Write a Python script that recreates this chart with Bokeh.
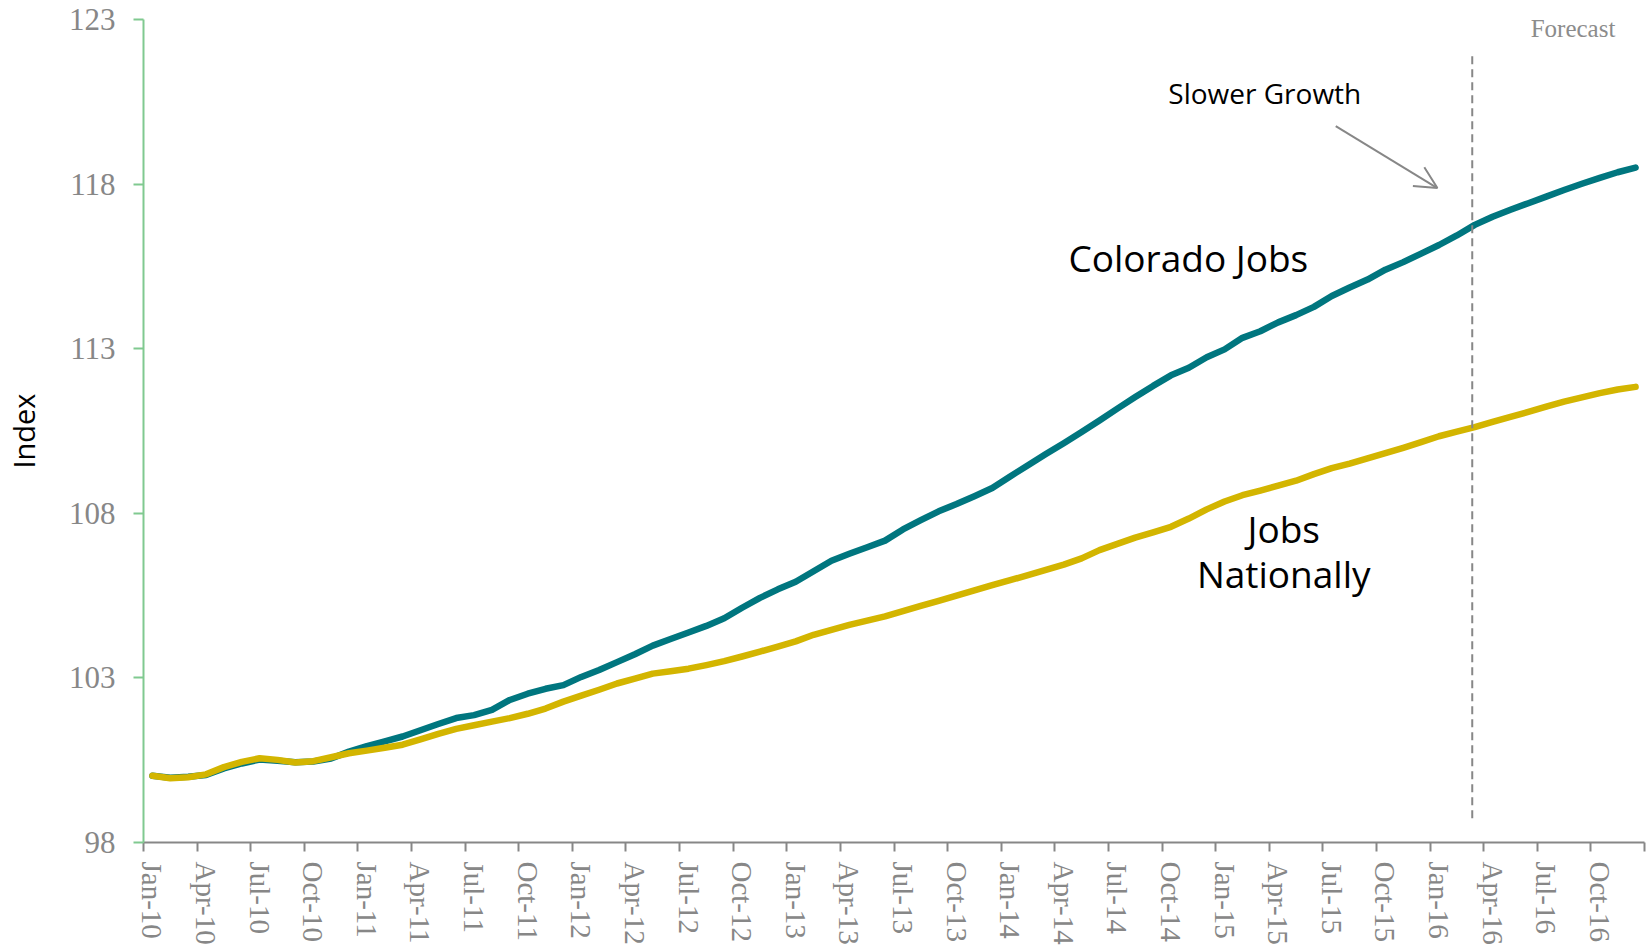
import numpy as np
from bokeh.plotting import figure
from bokeh.models import Range1d, FixedTicker, Label, Arrow, OpenHead
from bokeh.embed import file_html
from bokeh.resources import INLINE

# ---------------- data ----------------
TICK_LABELS = ["Jan-10", "Apr-10", "Jul-10", "Oct-10",
               "Jan-11", "Apr-11", "Jul-11", "Oct-11",
               "Jan-12", "Apr-12", "Jul-12", "Oct-12",
               "Jan-13", "Apr-13", "Jul-13", "Oct-13",
               "Jan-14", "Apr-14", "Jul-14", "Oct-14",
               "Jan-15", "Apr-15", "Jul-15", "Oct-15",
               "Jan-16", "Apr-16", "Jul-16", "Oct-16"]

Y_TICKS = [98, 103, 108, 113, 118, 123]

# monthly index, Jan-10 .. Dec-16
COLORADO = [100.03, 99.97, 100.00, 100.05, 100.25, 100.40, 100.52, 100.48, 100.44, 100.46, 100.55, 100.76,
            100.93, 101.07, 101.22, 101.41, 101.60, 101.78, 101.87, 102.03, 102.33, 102.52, 102.67, 102.78,
            103.03, 103.24, 103.48, 103.72, 103.98, 104.18, 104.38, 104.58, 104.81, 105.13, 105.43, 105.69,
            105.92, 106.24, 106.56, 106.77, 106.97, 107.17, 107.51, 107.79, 108.06, 108.28, 108.52, 108.77,
            109.12, 109.46, 109.80, 110.13, 110.47, 110.82, 111.18, 111.53, 111.87, 112.19, 112.42, 112.74,
            112.98, 113.33, 113.53, 113.80, 114.02, 114.27, 114.60, 114.86, 115.10, 115.40, 115.63, 115.89,
            116.15, 116.44, 116.76, 117.01, 117.22, 117.42, 117.62, 117.82, 118.01, 118.19, 118.36, 118.50]

NATIONAL = [100.03, 99.95, 99.98, 100.07, 100.29, 100.45, 100.56, 100.51, 100.43, 100.47, 100.59, 100.71,
            100.79, 100.88, 100.97, 101.13, 101.30, 101.45, 101.56, 101.67, 101.78, 101.91, 102.07, 102.28,
            102.46, 102.64, 102.83, 102.98, 103.13, 103.20, 103.28, 103.39, 103.51, 103.65, 103.80, 103.95,
            104.11, 104.31, 104.46, 104.61, 104.74, 104.87, 105.03, 105.19, 105.34, 105.50, 105.66, 105.82,
            105.97, 106.12, 106.28, 106.44, 106.63, 106.88, 107.07, 107.26, 107.42, 107.59, 107.84, 108.12,
            108.36, 108.55, 108.69, 108.84, 108.99, 109.19, 109.37, 109.51, 109.67, 109.83, 109.99, 110.16,
            110.34, 110.48, 110.62, 110.78, 110.93, 111.08, 111.24, 111.39, 111.52, 111.65, 111.76, 111.84]

# annotation anchors (month units / index units)
FORECAST_X = 74.36
FORECAST_Y0, FORECAST_Y1 = 98.74, 121.91
ARROW_FROM = (66.72, 119.76)
ARROW_TO = (72.41, 117.88)

TEAL = "#00767F"
GOLD = "#D3B500"
GRAY = "#878787"
GREEN = "#80C990"

n = len(COLORADO)
x = np.arange(n) + 0.5

p = figure(width=1646, height=947, output_backend="svg", toolbar_location=None,
           x_range=Range1d(0, n), y_range=Range1d(Y_TICKS[0], Y_TICKS[-1]))
p.min_border_left = 142
p.min_border_right = 2
p.min_border_top = 19
p.min_border_bottom = 105
p.outline_line_color = None
p.background_fill_color = "white"
p.border_fill_color = "white"
p.xgrid.grid_line_color = None
p.ygrid.grid_line_color = None

# x axis: labels at category centres, tick marks between quarters
label_pos = [3 * i + 0.5 for i in range(len(TICK_LABELS))]
xa = p.xaxis[0]
xa.ticker = FixedTicker(ticks=label_pos, minor_ticks=[3 * i for i in range(len(TICK_LABELS) + 1)])
xa.major_label_overrides = {pos: lab for pos, lab in zip(label_pos, TICK_LABELS)}
xa.major_tick_line_color = None
xa.major_tick_out = 0
xa.major_tick_in = 0
xa.minor_tick_line_color = GRAY
xa.minor_tick_line_width = 2
xa.minor_tick_out = 9
xa.minor_tick_in = 0
xa.axis_line_color = GRAY
xa.axis_line_width = 2
xa.major_label_orientation = "vertical"
xa.major_label_standoff = 10
xa.major_label_text_font = "Liberation Serif"
xa.major_label_text_font_size = "29px"
xa.major_label_text_color = GRAY

ya = p.yaxis[0]
ya.ticker = FixedTicker(ticks=Y_TICKS, minor_ticks=[])
ya.axis_line_color = GREEN
ya.axis_line_width = 2
ya.major_tick_line_color = GREEN
ya.major_tick_line_width = 2
ya.major_tick_out = 10
ya.major_tick_in = 0
ya.minor_tick_line_color = None
ya.major_label_standoff = 18
ya.major_label_text_font = "Liberation Serif"
ya.major_label_text_font_size = "31px"
ya.major_label_text_color = GRAY
ya.axis_label = "Index"
ya.axis_label_text_font = "Open Sans"
ya.axis_label_text_font_style = "normal"
ya.axis_label_text_font_size = "29px"
ya.axis_label_text_color = "black"
ya.axis_label_standoff = 23

p.line(x, COLORADO, line_color=TEAL, line_width=6.5, line_cap="round", line_join="round")
p.line(x, NATIONAL, line_color=GOLD, line_width=6.5, line_cap="round", line_join="round")

# forecast divider
p.line([FORECAST_X, FORECAST_X], [FORECAST_Y0, FORECAST_Y1], line_color=GRAY,
       line_width=2, line_dash="8 5")

p.add_layout(Label(x=80.0, y=122.74, text="Forecast", text_align="center",
                   text_baseline="alphabetic", text_font="Liberation Serif",
                   text_font_size="25px", text_color="#8c8c8c"))
p.add_layout(Label(x=62.75, y=120.77, text="Slower Growth", text_align="center",
                   text_baseline="alphabetic", text_font="Open Sans",
                   text_font_size="28px", text_color="black"))
p.add_layout(Label(x=58.47, y=115.78, text="Colorado Jobs", text_align="center",
                   text_baseline="alphabetic", text_font="Open Sans",
                   text_font_size="37px", text_color="black"))
p.add_layout(Label(x=63.81, y=107.54, text="Jobs", text_align="center",
                   text_baseline="alphabetic", text_font="Open Sans",
                   text_font_size="37px", text_color="black"))
p.add_layout(Label(x=63.81, y=106.16, text="Nationally", text_align="center",
                   text_baseline="alphabetic", text_font="Open Sans",
                   text_font_size="37px", text_color="black"))

p.add_layout(Arrow(end=OpenHead(size=22, line_color=GRAY, line_width=2),
                   x_start=ARROW_FROM[0], y_start=ARROW_FROM[1],
                   x_end=ARROW_TO[0], y_end=ARROW_TO[1],
                   line_color=GRAY, line_width=2))

open("out.html", "w").write(file_html(p, INLINE))
